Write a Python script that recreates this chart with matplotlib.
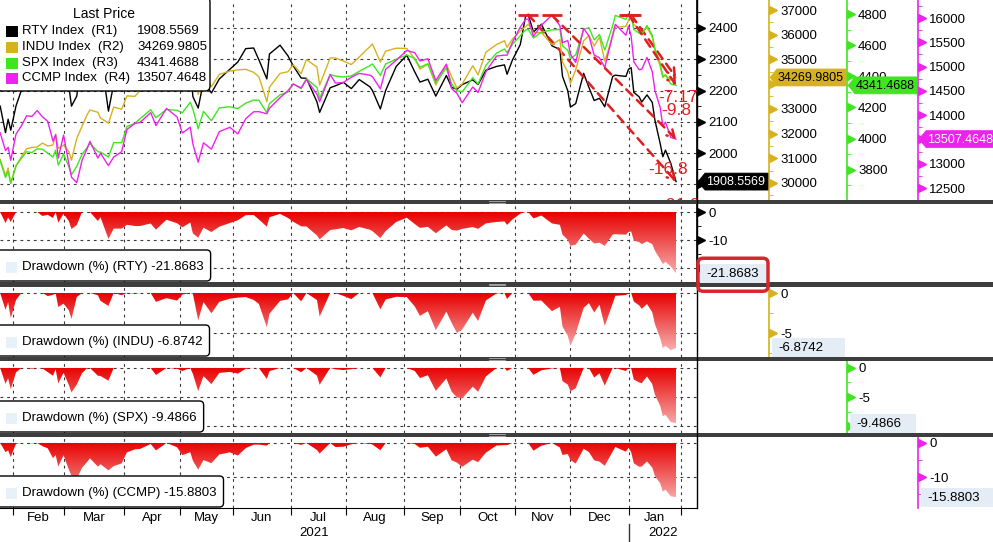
import numpy as np
import matplotlib
matplotlib.use("Agg")
import matplotlib.pyplot as plt
from matplotlib.patches import FancyBboxPatch, Rectangle, Polygon
from matplotlib.colors import LinearSegmentedColormap
from matplotlib.ticker import MultipleLocator, FuncFormatter
from matplotlib.transforms import blended_transform_factory

plt.rcParams['font.family'] = ['Liberation Sans', 'DejaVu Sans']
plt.rcParams['axes.unicode_minus'] = False

# ---- data (roughly every 2-3 sessions) ----
dates = ['2021-01-25', '2021-01-27', '2021-01-28', '2021-01-29', '2021-02-02', '2021-02-04',
         '2021-02-08', '2021-02-10', '2021-02-12', '2021-02-17', '2021-02-19', '2021-02-23',
         '2021-02-24', '2021-02-25', '2021-03-01', '2021-03-03', '2021-03-04', '2021-03-08',
         '2021-03-10', '2021-03-12', '2021-03-15', '2021-03-18', '2021-03-19', '2021-03-24',
         '2021-03-26', '2021-03-31', '2021-04-05', '2021-04-08', '2021-04-12', '2021-04-16',
         '2021-04-20', '2021-04-26', '2021-04-30', '2021-05-04', '2021-05-07', '2021-05-10',
         '2021-05-12', '2021-05-14', '2021-05-19', '2021-05-24', '2021-05-28', '2021-06-03',
         '2021-06-08', '2021-06-11', '2021-06-15', '2021-06-18', '2021-06-21', '2021-06-25',
         '2021-06-30', '2021-07-02', '2021-07-08', '2021-07-12', '2021-07-16', '2021-07-19',
         '2021-07-23', '2021-07-27', '2021-07-30', '2021-08-04', '2021-08-09', '2021-08-13',
         '2021-08-16', '2021-08-19', '2021-08-23', '2021-08-27', '2021-09-02', '2021-09-08',
         '2021-09-10', '2021-09-15', '2021-09-20', '2021-09-24', '2021-09-28', '2021-09-30',
         '2021-10-04', '2021-10-08', '2021-10-12', '2021-10-15', '2021-10-21', '2021-10-26',
         '2021-10-27', '2021-10-29', '2021-11-03', '2021-11-05', '2021-11-08', '2021-11-10',
         '2021-11-15', '2021-11-19', '2021-11-24', '2021-11-26', '2021-11-30', '2021-12-01',
         '2021-12-03', '2021-12-08', '2021-12-10', '2021-12-14', '2021-12-16', '2021-12-20',
         '2021-12-23', '2021-12-27', '2021-12-31', '2022-01-03', '2022-01-04', '2022-01-05',
         '2022-01-07', '2022-01-10', '2022-01-12', '2022-01-14', '2022-01-18', '2022-01-20',
         '2022-01-21', '2022-01-24', '2022-01-26', '2022-01-28']

rty = [2150, 2065, 2108, 2073, 2151, 2200, 2259, 2277, 2289, 2257, 2266, 2240,
       2289, 2201, 2275, 2214, 2150, 2182, 2310, 2352, 2361, 2285, 2317, 2134,
       2221, 2221, 2253, 2243, 2243, 2264, 2212, 2296, 2266, 2232, 2272, 2180,
       2144, 2229, 2192, 2237, 2268, 2291, 2334, 2336, 2298, 2237, 2317, 2345,
       2311, 2279, 2240, 2239, 2163, 2130, 2209, 2215, 2226, 2206, 2235, 2212,
       2200, 2141, 2200, 2277, 2313, 2260, 2227, 2236, 2182, 2248, 2210, 2204,
       2219, 2234, 2219, 2265, 2277, 2282, 2252, 2297, 2347, 2437, 2442.743, 2387,
       2412, 2343, 2331, 2245, 2199, 2147, 2158, 2255, 2210, 2168, 2175, 2148,
       2245, 2249, 2245, 2268, 2273, 2194, 2180, 2163, 2186, 2162, 2105, 2030,
       1988, 2009, 1967, 1908.5569]

indu = [30960, 30303, 30604, 29983, 30688, 31056, 31386, 31438, 31458, 31613, 31494, 31537,
        31962, 31402, 31536, 31270, 30924, 31802, 32297, 32779, 32953, 32862, 32628, 32420,
        33072, 32982, 33527, 33503, 33746, 34200, 33821, 33981, 33875, 34133, 34778, 34742,
        33587, 34382, 33896, 34394, 34529, 34577, 34600, 34479, 34299, 33290, 33876, 34433,
        34502, 34786, 34421, 34996, 34687, 33962, 35061, 35058, 34935, 34793, 35101, 35515,
        35625, 34894, 35336, 35455, 35443, 35031, 34607, 34814, 33970, 34798, 34299, 33844,
        34002, 34746, 34378, 35295, 35603, 35756, 35490, 35820, 36158, 36328, 36432, 36080,
        36087, 35602, 35804, 34899, 34484, 34022, 34580, 35754, 35971, 35545, 35898, 34932,
        35950, 36302, 36338, 36585, 36799.65, 36407, 36232, 36069, 36290, 35912, 35369, 34715,
        34265, 34365, 34168, 34269.9805]

spx = [3855, 3750, 3787, 3714, 3826, 3872, 3915, 3910, 3934, 3931, 3906, 3881,
       3925, 3829, 3901, 3819, 3768, 3821, 3899, 3943, 3968, 3915, 3913, 3881,
       3974, 3973, 4077, 4097, 4128, 4185, 4134, 4187, 4181, 4165, 4233, 4189,
       4063, 4174, 4115, 4197, 4204, 4192, 4227, 4247, 4246, 4166, 4224, 4281,
       4298, 4352, 4320, 4385, 4327, 4258, 4411, 4401, 4395, 4402, 4432, 4468,
       4479, 4406, 4479, 4509, 4537, 4514, 4458, 4480, 4358, 4455, 4352, 4307,
       4300, 4391, 4350, 4471, 4549, 4575, 4552, 4605, 4660, 4697, 4702, 4646,
       4683, 4698, 4701, 4595, 4567, 4513, 4538, 4701, 4712, 4634, 4668, 4568,
       4725, 4791, 4766, 4796.495, 4793, 4701, 4677, 4670, 4726, 4663, 4577, 4483,
       4398, 4410, 4350, 4341.4688]

ccmp = [13635, 13271, 13337, 13071, 13612, 13777, 13987, 13973, 14095, 13965, 13874, 13465,
        13597, 13119, 13589, 12998, 12723, 12609, 13069, 13320, 13460, 13116, 13215, 12962,
        13139, 13247, 13705, 13829, 13850, 14052, 13787, 14138, 13962, 13633, 13752, 13402,
        13032, 13430, 13300, 13661, 13749, 13614, 13925, 14069, 14072, 14030, 14141, 14360,
        14504, 14639, 14560, 14733, 14427, 14275, 14837, 14660, 14673, 14781, 14860, 14823,
        14793, 14542, 14943, 15130, 15331, 15287, 15115, 15161, 14714, 15048, 14547, 14449,
        14255, 14580, 14466, 14897, 15216, 15236, 15235, 15498, 15812, 15971, 15982, 15622,
        15854, 16057.43, 15845, 15491, 15538, 15254, 15085, 15786, 15630, 15237, 15180, 14981,
        15653, 15871, 15645, 15833, 15623, 15100, 14936, 14943, 15188, 14894, 14506, 14155,
        13769, 13856, 13542, 13507.4648]

names = ['RTY Index', 'INDU Index', 'SPX Index', 'CCMP Index']
axis_tags = ['R1', 'R2', 'R3', 'R4']
short_names = ['RTY', 'INDU', 'SPX', 'CCMP']
arrow_labels = ['-21.9', '-7.17', '-9.8', '-16.8']
month_labels = ['Feb', 'Mar', 'Apr', 'May', 'Jun', 'Jul', 'Aug', 'Sep', 'Oct', 'Nov', 'Dec', 'Jan']
month_starts = ['2021-02-01', '2021-03-01', '2021-04-01', '2021-05-01', '2021-06-01', '2021-07-01',
                '2021-08-01', '2021-09-01', '2021-10-01', '2021-11-01', '2021-12-01', '2022-01-01',
                '2022-02-01']
years = ['2021', '2022']
holidays = ['2021-02-15', '2021-04-02', '2021-05-31', '2021-07-05', '2021-09-06',
            '2021-11-25', '2021-12-24', '2022-01-17']

colors = ['#000000', '#d6b21e', '#3fe620', '#ee22ee']
flag_text = ['white', 'black', 'black', 'white']
red = '#e02020'

W, H = 993, 542
fig = plt.figure(figsize=(W / 100, H / 100), dpi=100)

# trading-day x axis, like the terminal chart
x = np.busday_count(dates[0], dates, holidays=holidays)
mticks = np.busday_count(dates[0], np.busday_offset(month_starts, 0, roll='forward', holidays=holidays),
                         holidays=holidays)
mmid = (mticks[:-1] + mticks[1:]) / 2
ppd = 2.64
x_left = mticks[0] - 13.4 / ppd
x_right = x_left + 697 / ppd

spine_px = [697, 769, 847, 918]
grid_kw = dict(color='#3a3a3a', ls=(0, (2.5, 3.5)), lw=0.8)


def box(top, bottom):
    return [0, 1 - bottom / H, 697 / W, (bottom - top) / H]


def style_yaxis(a, i, major, minor, lo, hi, last, height_px):
    a.set_ylim(lo, hi)
    for s in ['top', 'left', 'bottom']:
        a.spines[s].set_visible(False)
    a.spines['right'].set_position(('axes', spine_px[i] / 697))
    a.spines['right'].set_color(colors[i])
    a.spines['right'].set_linewidth(1.2)
    a.yaxis.tick_right()
    a.yaxis.set_major_locator(MultipleLocator(major))
    a.yaxis.set_minor_locator(MultipleLocator(minor))
    scale = height_px / (hi - lo)

    # labels sitting under the last-value tag are hidden, as on the terminal
    def fmt(v, pos):
        return '' if abs(v - last) * scale < 8 else f'{v:.0f}'
    a.yaxis.set_major_formatter(FuncFormatter(fmt))
    a.tick_params(axis='y', which='major', length=0, pad=8, labelsize=9.5)
    a.tick_params(axis='y', which='minor', length=3, color=colors[i])
    ticks = np.arange(np.ceil(lo / major) * major, hi, major)
    tr = blended_transform_factory(a.transAxes, a.transData)
    a.plot(np.full(len(ticks), (spine_px[i] + 3.5) / 697), ticks, ls='none', marker='>',
           ms=5.5, color=colors[i], transform=tr, clip_on=False)


series = [np.array(rty), np.array(indu), np.array(spx), np.array(ccmp)]

# ---- main price panel ----
ax = fig.add_axes(box(0, 200))
axes = [ax, ax.twinx(), ax.twinx(), ax.twinx()]
ylims = [(1849.6, 2489.6), (29311, 37405), (3605, 4890), (12253, 16371)]
majors = [100, 1000, 200, 500]
minors = [50, 500, 100, 250]
ax.set_xlim(x_left, x_right)
ax.set_xticks(mticks)
ax.tick_params(axis='x', length=0, labelbottom=False)
ax.grid(True, **grid_kw)
ax.set_axisbelow(True)

offsets = [(4, -24), (2, -20), (0, -25), (-8, -30)]
for i, a in enumerate(axes):
    v = series[i]
    style_yaxis(a, i, majors[i], minors[i], *ylims[i], v[-1], 200)
    a.plot(x, v, color=colors[i], lw=1)
    k = int(np.argmax(v))
    a.plot(x[k], v[k], marker='_', ms=15, mew=2, color=red, zorder=5)
    a.annotate('', xy=(x[-1], v[-1]), xytext=(x[k], v[k]),
               arrowprops=dict(arrowstyle='->,head_length=0.5,head_width=0.3', color=red,
                               lw=1.8, ls=(0, (3.5, 2.5)), shrinkA=0, shrinkB=0))
    a.annotate(arrow_labels[i], xy=(x[-1], v[-1]), xytext=offsets[i], textcoords='offset pixels',
               ha='center', va='center', color=red, fontsize=12.5, clip_on=True)

# ---- drawdown panels ----
dd_boxes = [(204, 282), (287, 357), (361, 433), (437, 508)]
dd_ylims = [(-25, 2.86), (-8, 0.75), (-11.2, 1.2), (-19.1, 1.76)]
dd_major = [10, 5, 5, 10]
dd_minor = [5, 2.5, 2.5, 5]
cmap = LinearSegmentedColormap.from_list('dd', ['#e80000', '#f9c4c4'])

dd_axes = []
dds = []
for i in range(4):
    v = series[i]
    dd = (v / np.maximum.accumulate(v) - 1) * 100
    dds.append(dd)
    d = fig.add_axes(box(*dd_boxes[i]), sharex=ax)
    lo, hi = dd_ylims[i]
    poly = d.fill_between(x, dd, 0, color='none', lw=0)
    im = d.imshow(np.linspace(0, 1, 256)[:, None], extent=[x[0], x[-1], lo, 0], aspect='auto',
                  cmap=cmap, origin='upper', zorder=2)
    im.set_clip_path(poly.get_paths()[0], d.transData)
    style_yaxis(d, i, dd_major[i], dd_minor[i], lo, hi, dd[-1], dd_boxes[i][1] - dd_boxes[i][0])
    d.set_xlim(x_left, x_right)
    d.grid(True, **grid_kw)
    d.set_axisbelow(True)
    d.tick_params(axis='x', which='both', length=0, labelbottom=False)
    dd_axes.append(d)

bot = dd_axes[-1]
bot.spines['bottom'].set_visible(True)
bot.set_xticks(mticks)
bot.set_xticks(mmid, minor=True)
bot.set_xticklabels(month_labels, minor=True)
bot.tick_params(axis='x', which='major', length=5, direction='out', labelbottom=False)
bot.tick_params(axis='x', which='minor', length=0, pad=3, labelsize=9.5, labelbottom=True)

# ---- overlay in pixel coordinates ----
ov = fig.add_axes([0, 0, 1, 1], zorder=20)
ov.set_xlim(0, W)
ov.set_ylim(H, 0)
ov.axis('off')


def py(a, xv, yv):
    dx, dy = a.transData.transform((xv, yv))
    return dx, H - dy


ov.plot([697, 697], [0, 508], color='black', lw=1)
for y0, y1 in [(200, 204), (282, 287), (357, 361), (433, 437)]:
    ov.add_patch(Rectangle((0, y0), W, y1 - y0, color='#3e3e3e', lw=0))
    for dy in (0.35, 0.65):
        yy = y0 + (y1 - y0) * dy
        ov.plot([489, 505], [yy, yy], color='#b0b0b0', lw=0.6)

# legend
ov.add_patch(FancyBboxPatch((-3, -3), 213, 94, boxstyle='round,pad=0,rounding_size=5',
                            fc='white', ec='black', lw=1))
ov.text(104, 14, 'Last Price', ha='center', va='center', fontsize=10)
for i, yc in enumerate([31, 47, 63, 78]):
    ov.add_patch(Rectangle((6, yc - 5), 12, 11, color=colors[i], lw=0))
    ov.text(22, yc, f'{names[i]}  ({axis_tags[i]})', va='center', fontsize=9.5)
    ov.text(137, yc, f'{series[i][-1]:.4f}', va='center', fontsize=9.5)

# last-price flags on the right axes
for i, a in enumerate(axes):
    _, yc = py(a, x[-1], series[i][-1])
    x0 = spine_px[i] + 1
    x1 = spine_px[i + 1] - 1 if i < 3 else W + 5
    h = 17
    ov.add_patch(Polygon([(x0, yc), (x0 + 7, yc - h / 2), (x1, yc - h / 2), (x1, yc + h / 2),
                          (x0 + 7, yc + h / 2)], closed=True, fc=colors[i], ec=colors[i], lw=0.5))
    ov.text(x0 + 8, yc + 0.5, f'{series[i][-1]:.4f}', va='center', fontsize=9, color=flag_text[i])

# drawdown legends and last values
renderer = fig.canvas.get_renderer()
for i, d in enumerate(dd_axes):
    top, bottom = dd_boxes[i]
    yc = bottom - 15
    t = ov.text(22, yc, f'Drawdown (%) ({short_names[i]}) {dds[i][-1]:.4f}', va='center',
                fontsize=9.5, zorder=3)
    right = t.get_window_extent(renderer).x1 + 7
    ov.add_patch(FancyBboxPatch((-3, bottom - 32), right + 3, 31,
                                boxstyle='round,pad=0,rounding_size=4', fc='white', ec='black',
                                lw=1, zorder=2))
    ov.add_patch(Rectangle((6, yc - 5), 11, 11, color='#e8f0f8', lw=0, zorder=3))

    _, vy = py(d, x[-1], dds[i][-1])
    x0 = spine_px[i] + 3
    x1 = spine_px[i + 1] - 2 if i < 3 else W
    ov.add_patch(Rectangle((x0, vy - 9.5), x1 - x0, 19, fc='#e4edf6', lw=0, zorder=2))
    ov.text(x0 + 6, vy + 0.5, f'{dds[i][-1]:.4f}', va='center', fontsize=9.5, zorder=3)
    if i == 0:
        ov.add_patch(FancyBboxPatch((698, vy - 15), 70, 33, boxstyle='round,pad=0,rounding_size=5',
                                    fill=False, ec='#d9262b', lw=2.5, zorder=4))

# year labels under the month axis
jan_px, _ = py(bot, mticks[11], 0)
ov.text(jan_px / 2, 533, years[0], ha='center', va='center', fontsize=9.5)
ov.text((jan_px + 697) / 2, 533, years[1], ha='center', va='center', fontsize=9.5)
ov.plot([jan_px, jan_px], [524, 542], color='#333333', lw=1)

fig.savefig('out.png', dpi=100, facecolor='white')
